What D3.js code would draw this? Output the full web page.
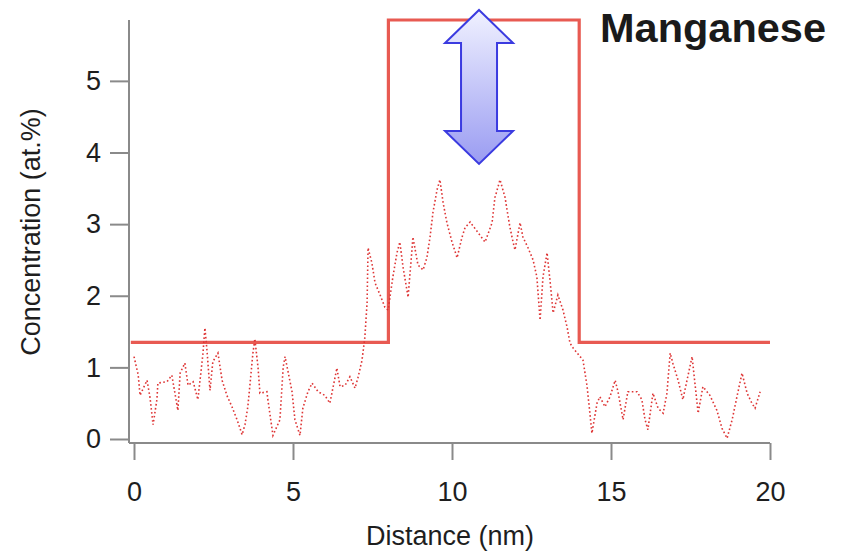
<!DOCTYPE html>
<html>
<head>
<meta charset="utf-8">
<script src="https://cdn.jsdelivr.net/npm/d3@7"></script>
<style>
  html, body { margin: 0; padding: 0; background: #fff; }
  svg { display: block; }
  text { font-family: "Liberation Sans", Arial, Helvetica, sans-serif; }
</style>
</head>
<body>
<svg id="chart" width="843" height="554"></svg>
<script>
// Measured Mn profile: distance (nm) and concentration (at.%)
const distance = [
  0.00, 0.13, 0.19, 0.41, 0.50, 0.60, 0.72, 0.75, 1.04, 1.19, 1.38, 1.45, 1.60, 1.70, 1.86, 2.01,
  2.17, 2.23, 2.30, 2.39, 2.48, 2.64, 2.77, 2.92, 3.08, 3.24, 3.40, 3.49, 3.58, 3.74, 3.80, 3.90,
  3.96, 4.18, 4.21, 4.37, 4.59, 4.69, 4.75, 4.97, 5.06, 5.22, 5.31, 5.47, 5.60, 5.79, 6.00, 6.16,
  6.38, 6.48, 6.64, 6.79, 6.95, 7.04, 7.17, 7.26, 7.33, 7.36, 7.48, 7.58, 7.74, 7.89, 7.99, 8.14,
  8.27, 8.36, 8.46, 8.62, 8.74, 8.77, 8.93, 9.09, 9.21, 9.31, 9.40, 9.53, 9.62, 9.72, 9.84, 10.00,
  10.16, 10.31, 10.41, 10.57, 10.82, 11.04, 11.26, 11.35, 11.51, 11.67, 11.73, 11.82, 11.92, 11.98,
  12.14, 12.23, 12.39, 12.55, 12.67, 12.77, 12.86, 12.99, 13.08, 13.18, 13.33, 13.49, 13.62, 13.71,
  13.81, 14.12, 14.25, 14.40, 14.56, 14.65, 14.81, 14.97, 15.13, 15.22, 15.38, 15.53, 15.66, 15.82,
  15.97, 16.07, 16.16, 16.32, 16.48, 16.64, 16.76, 16.86, 16.95, 17.11, 17.26, 17.55, 17.74, 17.89,
  18.11, 18.33, 18.49, 18.65, 18.81, 18.96, 19.12, 19.28, 19.43, 19.53, 19.69
];
const concentration = [
  1.15, 0.90, 0.61, 0.82, 0.59, 0.20, 0.55, 0.78, 0.80, 0.89, 0.40, 0.92, 1.06, 0.75, 0.80, 0.55,
  1.20, 1.55, 1.21, 0.68, 1.08, 1.20, 0.82, 0.61, 0.45, 0.27, 0.06, 0.20, 0.45, 1.20, 1.40, 1.00,
  0.64, 0.66, 0.55, 0.05, 0.27, 1.00, 1.15, 0.66, 0.27, 0.05, 0.43, 0.66, 0.78, 0.66, 0.61, 0.50,
  0.99, 0.73, 0.75, 0.87, 0.71, 0.85, 1.10, 1.42, 1.90, 2.67, 2.46, 2.18, 2.01, 1.84, 1.80, 2.26,
  2.60, 2.75, 2.40, 1.98, 2.64, 2.82, 2.43, 2.36, 2.53, 2.82, 3.16, 3.48, 3.62, 3.30, 3.02, 2.75,
  2.53, 2.81, 2.95, 3.03, 2.88, 2.75, 3.02, 3.37, 3.62, 3.37, 3.20, 2.96, 2.75, 2.64,
  3.02, 2.82, 2.67, 2.50, 2.26, 1.66, 2.26, 2.60, 2.22, 1.76, 2.01, 1.80, 1.56, 1.34,
  1.27, 1.10, 0.73, 0.08, 0.50, 0.59, 0.45, 0.59, 0.82, 0.66, 0.27, 0.66, 0.66, 0.66,
  0.55, 0.27, 0.13, 0.64, 0.43, 0.36, 0.64, 1.20, 1.05, 0.82, 0.55, 1.15, 0.36, 0.73,
  0.61, 0.40, 0.15, 0.01, 0.27, 0.59, 0.92, 0.64, 0.50, 0.43, 0.66
];

// Nominal (ideal) Mn profile of the doped layer
const stepDistance = [-0.1, 8, 8, 14, 14, 20];
const stepConcentration = [1.35, 1.35, 5.85, 5.85, 1.35, 1.35];

// Annotation: gap between nominal and measured peak
const gapX = 10.85;
const gapTop = 5.99;
const gapBottom = 3.84;

const xTicks = [0, 5, 10, 15, 20];
const yTicks = [0, 1, 2, 3, 4, 5];
const xTitle = "Distance (nm)";
const yTitle = "Concentration (at.%)";
const chartTitle = "Manganese";

const svg = d3.select("#chart");

const x = d3.scaleLinear().domain([0, 20]).range([134, 770]);
const y = d3.scaleLinear().domain([0, 5.85]).range([439, 20]);

const axisColor = "#8a8a8a";
const labelColor = "#1e1e1e";

// Y axis (offset slightly left of x = 0)
const yAxisG = svg.append("g").attr("transform", "translate(129,0)")
  .call(d3.axisLeft(y).tickValues(yTicks).tickFormat(d3.format("d"))
    .tickSize(19).tickPadding(9));
yAxisG.select(".domain").remove();
yAxisG.append("line").attr("x1", 0).attr("x2", 0).attr("y1", y(5.85)).attr("y2", 443)
  .attr("stroke", axisColor).attr("stroke-width", 2);
yAxisG.selectAll(".tick line").attr("stroke", axisColor).attr("stroke-width", 2);
yAxisG.selectAll(".tick text").attr("fill", labelColor).attr("font-size", 27)
  .attr("font-family", "Liberation Sans, Arial, sans-serif");

// X axis (offset slightly below y = 0)
const xAxisG = svg.append("g").attr("transform", "translate(0,443)")
  .call(d3.axisBottom(x).tickValues(xTicks).tickFormat(d3.format("d"))
    .tickSize(17).tickPadding(22));
xAxisG.select(".domain").remove();
xAxisG.append("line").attr("x1", 129).attr("x2", x(20)).attr("y1", 0).attr("y2", 0)
  .attr("stroke", axisColor).attr("stroke-width", 2);
xAxisG.selectAll(".tick line").attr("stroke", axisColor).attr("stroke-width", 2);
xAxisG.selectAll(".tick text").attr("fill", labelColor).attr("font-size", 27)
  .attr("font-family", "Liberation Sans, Arial, sans-serif");

// Axis titles
svg.append("text").attr("x", x(10) - 2).attr("y", 545).attr("text-anchor", "middle")
  .attr("font-size", 27).attr("fill", labelColor).text(xTitle);
svg.append("text").attr("transform", "translate(40,232) rotate(-90)")
  .attr("text-anchor", "middle").attr("font-size", 27).attr("fill", labelColor).text(yTitle);

// Nominal step profile
const stepLine = d3.line().x(d => x(d[0])).y(d => y(d[1]));
svg.append("path")
  .datum(stepDistance.map((d, i) => [d, stepConcentration[i]]))
  .attr("d", stepLine)
  .attr("fill", "none").attr("stroke", "#e85a52").attr("stroke-width", 3.2)
  .attr("stroke-linejoin", "miter");

// Measured profile, dotted
const profLine = d3.line().x(d => x(d[0])).y(d => y(d[1]));
svg.append("path")
  .datum(distance.map((d, i) => [d, concentration[i]]))
  .attr("d", profLine)
  .attr("fill", "none").attr("stroke", "#de3535").attr("stroke-width", 1.6)
  .attr("stroke-dasharray", "1.6 2.4");

// Double-headed arrow
const defs = svg.append("defs");
const grad = defs.append("linearGradient").attr("id", "arrowFill")
  .attr("x1", 0).attr("y1", 0).attr("x2", 0).attr("y2", 1);
grad.append("stop").attr("offset", "0%").attr("stop-color", "#f0f1ff");
grad.append("stop").attr("offset", "100%").attr("stop-color", "#9a9cf2");

const ax = x(gapX);
const aTop = y(gapTop), aBot = y(gapBottom);
const headH = 33, headW = 34, shaftW = 18;
const arrowPts = [
  [ax, aTop], [ax + headW, aTop + headH], [ax + shaftW, aTop + headH],
  [ax + shaftW, aBot - headH], [ax + headW, aBot - headH], [ax, aBot],
  [ax - headW, aBot - headH], [ax - shaftW, aBot - headH],
  [ax - shaftW, aTop + headH], [ax - headW, aTop + headH]
];
svg.append("path")
  .attr("d", d3.line()(arrowPts) + "Z")
  .attr("fill", "url(#arrowFill)").attr("stroke", "#3b3be0").attr("stroke-width", 2)
  .attr("stroke-linejoin", "miter");

// Element label
svg.append("text").attr("x", 600).attr("y", 42)
  .attr("font-size", 40).attr("font-weight", "bold").attr("fill", "#1a1a1a")
  .attr("textLength", 226).attr("lengthAdjust", "spacingAndGlyphs")
  .text(chartTitle);
</script>
</body>
</html>
